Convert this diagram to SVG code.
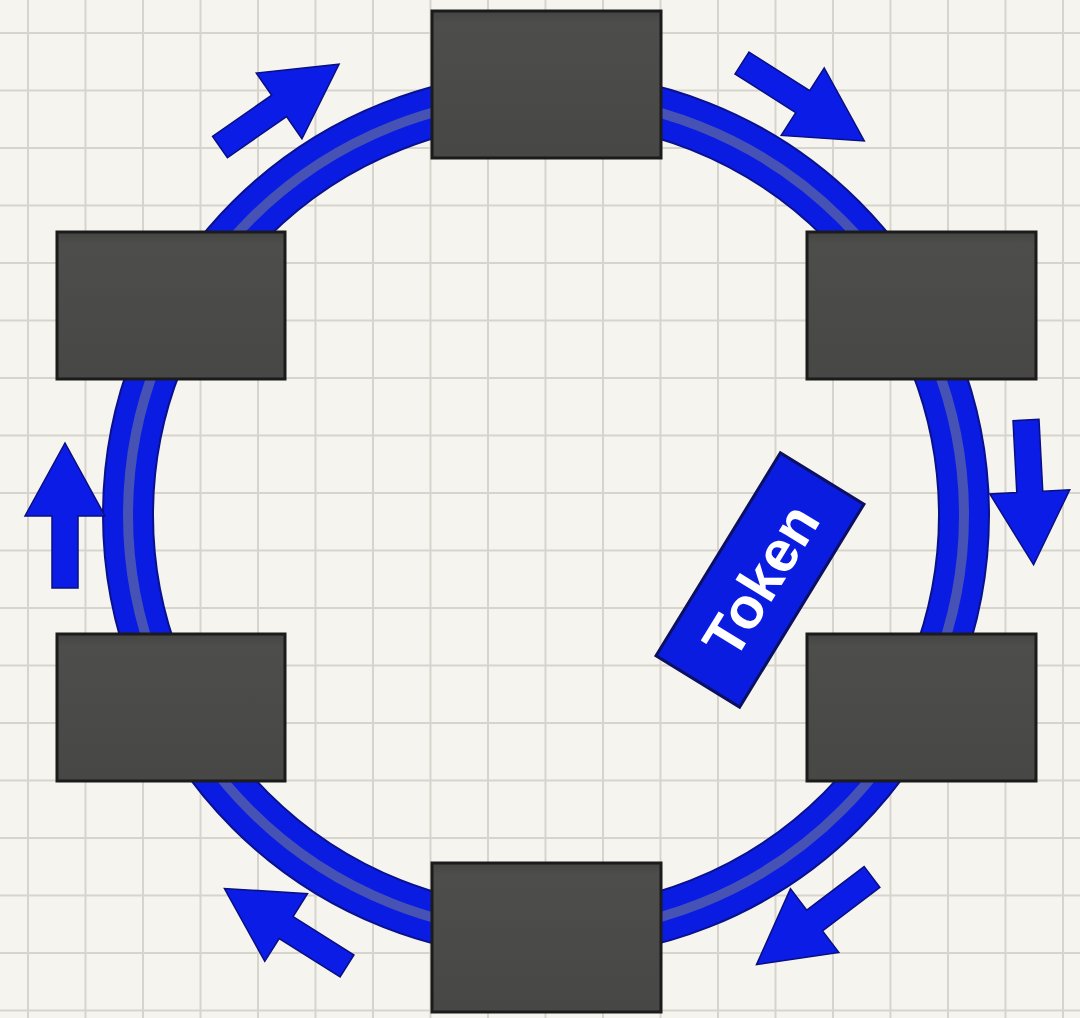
<svg xmlns="http://www.w3.org/2000/svg" width="1080" height="1018" viewBox="0 0 1080 1018">
  <defs>
    <pattern id="grid" x="27" y="32" width="57.5" height="57.5" patternUnits="userSpaceOnUse">
      <path d="M1,0 V57.5 M0,1 H57.5" stroke="#d6d4cc" stroke-width="2" fill="none"/>
    </pattern>
    <linearGradient id="boxg" x1="0" y1="0" x2="0" y2="1">
      <stop offset="0" stop-color="#444443"/>
      <stop offset="0.08" stop-color="#4d4d4c"/>
      <stop offset="1" stop-color="#474746"/>
    </linearGradient>
    <path id="arr" d="M0,-13 L72,-13 L72,-40 L145,0 L72,40 L72,13 L0,13 Z"/>
  </defs>
  <style>
    .box { fill: url(#boxg); stroke: #1b1b1b; stroke-width: 3; }
    .arrow { fill: #0a1ce6; stroke: #0a0f80; stroke-width: 1.5; stroke-linejoin: miter; }
    .ring-edge { fill: none; stroke: #0a118c; stroke-width: 52; }
    .ring { fill: none; stroke: #0a1ce2; stroke-width: 48; }
    .ring-stripe { fill: none; stroke: #4652b4; stroke-width: 10; }
    .token { fill: #0a1ce0; stroke: #0b1060; stroke-width: 3; }
    .token-text { fill: #ffffff; font-family: "Liberation Sans", Arial, sans-serif; font-weight: bold; font-size: 58px; }
  </style>

  <rect width="1080" height="1018" fill="#f5f4ee"/>
  <rect width="1080" height="1018" fill="url(#grid)"/>

  <g id="connectors">
    <circle class="ring-edge" cx="546" cy="515" r="418"/>
    <circle class="ring" cx="546" cy="515" r="418"/>
    <circle class="ring-stripe" cx="546" cy="515" r="418"/>
    <use href="#arr" class="arrow" transform="translate(65,588) rotate(-90)"/>
    <use href="#arr" class="arrow" transform="translate(220,147) rotate(-34.8)"/>
    <use href="#arr" class="arrow" transform="translate(742,63) rotate(32.5)"/>
    <use href="#arr" class="arrow" transform="translate(1026,420) rotate(87)"/>
    <use href="#arr" class="arrow" transform="translate(872,877) rotate(142.8)"/>
    <use href="#arr" class="arrow" transform="translate(347,966) rotate(-147.7)"/>
  </g>

  <g id="node-top"><rect class="box" x="432" y="11" width="229" height="147"/></g>
  <g id="node-top-right"><rect class="box" x="807" y="232" width="229" height="147"/></g>
  <g id="node-bottom-right"><rect class="box" x="807" y="634" width="229" height="147"/></g>
  <g id="node-bottom"><rect class="box" x="432" y="863" width="229" height="149"/></g>
  <g id="node-bottom-left"><rect class="box" x="57" y="634" width="228" height="147"/></g>
  <g id="node-top-left"><rect class="box" x="57" y="232" width="228" height="147"/></g>

  <g id="token" transform="translate(760,580) rotate(-58.5)">
    <rect class="token" x="-119" y="-49" width="238" height="98"/>
    <text class="token-text" x="0" y="21" text-anchor="middle">Token</text>
  </g>
</svg>
